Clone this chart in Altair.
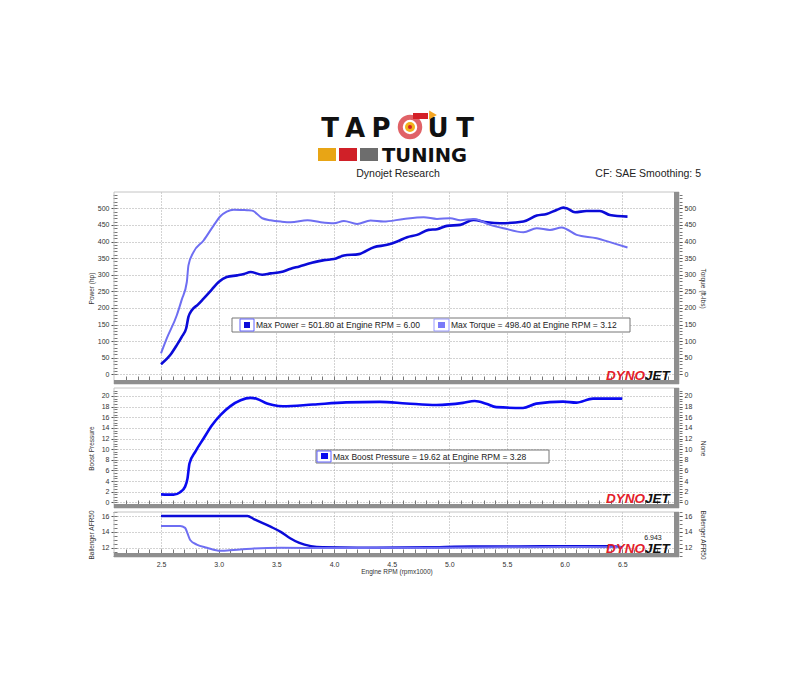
import altair as alt
import pandas as pd

# ---------------- data ----------------
power_rpm = [2.50, 2.58, 2.637, 2.68, 2.718, 2.738, 2.767, 2.82, 2.869, 2.94, 3.00, 3.07, 3.16, 3.22,
             3.276, 3.378, 3.45, 3.54, 3.625, 3.70, 3.80, 3.914, 4.00, 4.086, 4.216, 4.346, 4.461,
             4.548, 4.634, 4.72, 4.82, 4.893, 4.98, 5.095, 5.21, 5.326, 5.44, 5.643, 5.758, 5.844,
             5.93, 5.988, 6.017, 6.09, 6.19, 6.305, 6.392, 6.545]
power_hp = [30, 58, 88, 113, 138, 173, 193, 210, 228, 255, 278, 293, 298, 302,
            308, 300, 304, 308, 318, 325, 335, 344, 347, 358, 362, 383, 390,
            400, 413, 420, 435, 437, 447, 450, 465, 458, 455, 460, 478, 483,
            495, 502, 500, 488, 492, 492, 480, 475]

torque_rpm = [2.50, 2.55, 2.637, 2.68, 2.724, 2.738, 2.782, 2.869, 2.956, 3.015, 3.07, 3.13, 3.247,
              3.29, 3.378, 3.45, 3.54, 3.625, 3.77, 3.885, 4.00, 4.086, 4.20, 4.317, 4.43, 4.605,
              4.778, 4.893, 5.009, 5.095, 5.21, 5.355, 5.47, 5.643, 5.758, 5.873, 5.974, 6.017,
              6.104, 6.277, 6.42, 6.545]
torque_lbft = [63, 108, 178, 225, 278, 328, 368, 403, 448, 476, 490, 496, 494,
               493, 470, 464, 460, 458, 464, 458, 455, 462, 453, 463, 460, 468,
               473, 468, 470, 464, 468, 450, 440, 428, 440, 435, 442, 437,
               420, 410, 395, 382]

boost_rpm = [2.50, 2.608, 2.666, 2.709, 2.73, 2.747, 2.797, 2.869, 2.942, 3.015, 3.102, 3.19, 3.276,
             3.334, 3.42, 3.47, 3.558, 3.818, 4.107, 4.396, 4.627, 4.887, 5.118, 5.22, 5.32,
             5.408, 5.639, 5.754, 5.986, 6.101, 6.246, 6.50]
boost_psi = [1.5, 1.44, 1.9, 2.95, 4.5, 7.3, 9.5, 12.0, 14.5, 16.4, 18.1, 19.2, 19.65,
             19.45, 18.6, 18.3, 18.06, 18.4, 18.8, 18.9, 18.6, 18.3, 18.7, 19.06, 18.56,
             17.9, 17.75, 18.56, 18.94, 18.75, 19.5, 19.5]

afr1_rpm = [2.50, 2.80, 3.10, 3.25, 3.305, 3.45, 3.538, 3.62, 3.70, 3.80, 3.90, 4.20, 4.80, 5.20,
            5.60, 6.00, 6.40, 6.50]
afr1_val = [16.0, 16.0, 16.0, 16.0, 15.6, 14.65, 14.0, 13.2, 12.6, 12.2, 12.05, 12.0, 12.05, 12.15,
            12.15, 12.2, 12.2, 12.05]

afr2_rpm = [2.50, 2.666, 2.709, 2.73, 2.753, 2.81, 2.898, 3.015, 3.13, 3.305, 3.538, 4.00, 4.50,
            5.00, 5.50, 6.00, 6.50]
afr2_val = [14.74, 14.74, 14.5, 13.8, 12.97, 12.4, 12.0, 11.6, 11.7, 11.9, 12.0, 11.95, 12.0,
            12.0, 12.05, 12.1, 12.05]

x_ticks = [2.5, 3.0, 3.5, 4.0, 4.5, 5.0, 5.5, 6.0, 6.5]
x_minor = [round(2.2 + 0.1 * i, 1) for i in range(48)]
hp_ticks = [0, 50, 100, 150, 200, 250, 300, 350, 400, 450, 500]
hp_minor = list(range(0, 541, 10))
boost_ticks = [0, 2, 4, 6, 8, 10, 12, 14, 16, 18, 20]
boost_minor = [i * 0.5 for i in range(0, 43)]
afr_ticks = [12, 14, 16]
afr_minor = [11.0 + 0.5 * i for i in range(12)]

legend_power = "Max Power = 501.80 at Engine RPM = 6.00"
legend_torque = "Max Torque = 498.40 at Engine RPM = 3.12"
legend_boost = "Max Boost Pressure = 19.62 at Engine RPM = 3.28"

# ---------------- styling ----------------
W = 565
XDOM = [2.0925, 6.9916]
FONT = "Liberation Sans"
GRID = dict(gridColor="#a6a6a6", gridDash=[1, 2], gridWidth=1)
DARK = "#0b0bd8"
LIGHT = "#6e6ef2"
one = pd.DataFrame({"k": [0]})


def xscale():
    return alt.Scale(domain=XDOM, nice=False, zero=False)


def rect(x, x2, y, y2, **kw):
    return alt.Chart(one).mark_rect(**kw).encode(
        x=alt.value(x), x2=alt.value(x2), y=alt.value(y), y2=alt.value(y2))


def text(s, x, y, **kw):
    base = dict(font=FONT, fontSize=8.5, color="#222", align="left", baseline="middle")
    base.update(kw)
    return alt.Chart(one).mark_text(text=s, **base).encode(x=alt.value(x), y=alt.value(y))


def frame(H):
    return [
        rect(0, W, 0, H, fillOpacity=0, stroke="#c4c4c4", strokeWidth=1),
        rect(W - 5, W, 0, H, color="#8e8e8e"),
        rect(0, W, H - 4, H, color="#8e8e8e"),
    ]


def dynojet(ybase):
    return [
        text("DYNO", 531, ybase, color="#e3202a", fontSize=13.5, fontWeight=900, fontStyle="italic",
             align="right", baseline="alphabetic"),
        text("JET", 531, ybase, color="#111111", fontSize=13.5, fontWeight=900, fontStyle="italic",
             align="left", baseline="alphabetic"),
    ]


def panel(series, ydom, yticks, yminor, H, ltitle, rtitle, extras, bottom=False):
    yscale = alt.Scale(domain=ydom, nice=False, zero=False)
    lab = dict(labelFont=FONT, labelFontSize=7, labelColor="#333")
    ttl = dict(titleFont=FONT, titleFontSize=6.5, titleFontWeight="normal", titleColor="#333")
    if bottom:
        xaxis = alt.Axis(orient="bottom", values=x_ticks, grid=True, **GRID, domain=False, ticks=False,
                         labelPadding=3, format=".1f", title="Engine RPM (rpmx1000)",
                         titlePadding=1, **lab, **ttl)
    else:
        xaxis = alt.Axis(orient="bottom", values=x_ticks, grid=True, **GRID, domain=False, ticks=False,
                         labels=False, title=None)
    ax_left = alt.Axis(orient="left", values=yticks, grid=True, **GRID, domain=False,
                       tickSize=3, tickColor="#555", labelPadding=2, title=ltitle,
                       titleX=-20, titleY=H / 2, **lab, **ttl)
    ax_right = alt.Axis(orient="right", values=yticks, grid=False, domain=False,
                        tickSize=3, tickColor="#555", labelPadding=2, title=rtitle,
                        titleX=20, titleY=H / 2, **lab, **ttl)
    ax_lmin = alt.Axis(orient="left", values=yminor, grid=False, domain=False, labels=False,
                       tickSize=4, tickColor="#777", offset=-3, title=None)
    ax_rmin = alt.Axis(orient="right", values=yminor, grid=False, domain=False, labels=False,
                       tickSize=3, tickColor="#777", offset=0, title=None)
    ax_xmin = alt.Axis(orient="bottom", values=x_minor, grid=False, domain=False, labels=False,
                       tickSize=4, tickColor="#777", offset=-8, title=None)

    layers = frame(H)[:1]
    d0, c0, sw0 = series[0]
    layers.append(alt.Chart(d0).mark_line(opacity=0).encode(
        x=alt.X("rpm:Q", scale=xscale(), axis=ax_xmin),
        y=alt.Y("v:Q", scale=yscale, axis=ax_lmin)))
    layers.append(alt.Chart(d0).mark_line(opacity=0).encode(
        x=alt.X("rpm:Q", scale=xscale(), axis=None),
        y=alt.Y("v:Q", scale=yscale, axis=ax_rmin)))
    layers.append(alt.Chart(d0).mark_line(color=c0, strokeWidth=sw0, interpolate="monotone").encode(
        x=alt.X("rpm:Q", scale=xscale(), axis=xaxis),
        y=alt.Y("v:Q", scale=yscale, axis=ax_left)))
    if len(series) > 1:
        d1, c1, sw1 = series[1]
        layers.append(alt.Chart(d1).mark_line(color=c1, strokeWidth=sw1, interpolate="monotone").encode(
            x=alt.X("rpm:Q", scale=xscale(), axis=None),
            y=alt.Y("v:Q", scale=yscale, axis=ax_right)))
    else:
        layers.append(alt.Chart(d0).mark_line(opacity=0).encode(
            x=alt.X("rpm:Q", scale=xscale(), axis=None),
            y=alt.Y("v:Q", scale=yscale, axis=ax_right)))
    layers += frame(H)[1:]
    layers += extras
    return alt.layer(*layers).resolve_axis(x="independent", y="independent").properties(
        width=W, height=H)


df_power = pd.DataFrame({"rpm": power_rpm, "v": power_hp})
df_torque = pd.DataFrame({"rpm": torque_rpm, "v": torque_lbft})
df_boost = pd.DataFrame({"rpm": boost_rpm, "v": boost_psi})
df_afr1 = pd.DataFrame({"rpm": afr1_rpm, "v": afr1_val})
df_afr2 = pd.DataFrame({"rpm": afr2_rpm, "v": afr2_val})

# ---------------- header (logo + captions) ----------------
HH = 180
hdr = []
for ch, cx in [("T", 216), ("A", 241), ("P", 267), ("U", 324), ("T", 351)]:
    hdr.append(text(ch, cx, 129, font="DejaVu Sans", fontWeight="bold", fontSize=26,
                    color="#111", align="center", baseline="alphabetic"))
# turbo "O"
hdr.append(rect(299, 314, 105, 111, color="#d42027"))
hdr.append(alt.Chart(one).mark_point(shape="triangle-right", filled=True, color="#f5a623", opacity=1, size=80).encode(
    x=alt.value(319), y=alt.value(107)))
hdr.append(alt.Chart(one).mark_point(shape="circle", filled=False, color="#d42027", strokeWidth=5, size=380).encode(
    x=alt.value(296), y=alt.value(119)))
hdr.append(alt.Chart(one).mark_point(shape="circle", filled=True, color="#f2b31a", opacity=1, size=100).encode(
    x=alt.value(296), y=alt.value(119)))
hdr.append(alt.Chart(one).mark_point(shape="circle", filled=True, color="#d42027", opacity=1, size=16).encode(
    x=alt.value(296), y=alt.value(119)))
hdr.append(rect(204, 222, 140, 153, color="#e8a515"))
hdr.append(rect(225, 243, 140, 153, color="#d02028"))
hdr.append(rect(246, 264, 140, 153, color="#6d6d6d"))
hdr.append(text("TUNING", 268, 154, font="DejaVu Sans", fontWeight="bold", fontSize=19.5,
                color="#111", baseline="alphabetic"))
hdr.append(text("Dynojet Research", 284, 166, fontSize=10.5, align="center", color="#222"))
hdr.append(text("CF: SAE Smoothing: 5", 587, 166, fontSize=10.5, align="right", color="#222"))
header = alt.layer(*hdr).properties(width=W, height=HH)

# ---------------- panels ----------------
H1, H2, H3 = 192, 120, 45

top_extras = [
    rect(118, 516, 126, 140, fill="white", stroke="#777", strokeWidth=1),
    rect(126, 140, 127, 139, fill="white", stroke="#6060ff", strokeWidth=1),
    rect(130, 136, 130, 136, color=DARK),
    text(legend_power, 142, 133),
    rect(320, 335, 127, 139, fill="white", stroke="#9a9aff", strokeWidth=1),
    rect(324, 331, 130, 136, color="#7a7af8"),
    text(legend_torque, 337, 133),
] + dynojet(188)

mid_extras = [
    rect(202, 435, 62, 75, fill="white", stroke="#777", strokeWidth=1),
    rect(203, 217, 63, 74, fill="white", stroke="#6060ff", strokeWidth=1),
    rect(207, 214, 65, 71, color="#0a0af0"),
    text(legend_boost, 219, 68.5),
] + dynojet(115)

bot_extras = dynojet(41) + [text("6.943", 539, 26, fontSize=7, align="center", color="#222")]

top = panel([(df_power, DARK, 2.6), (df_torque, LIGHT, 2.0)], [-29.2, 549.1], hp_ticks, hp_minor,
            H1, "Power (hp)", "Torque (ft-lbs)", top_extras)
mid = panel([(df_boost, "#0a0af0", 2.6)], [-1.072, 21.505], boost_ticks, boost_minor,
            H2, "Boost Pressure", "None", mid_extras)
bot = panel([(df_afr1, DARK, 2.4), (df_afr2, LIGHT, 2.0)], [10.826, 16.505], afr_ticks, afr_minor,
            H3, "Ballenger AFR50", "Ballenger AFR50", bot_extras, bottom=True)

chart = alt.vconcat(header, top, mid, bot, spacing=4, bounds="flush").properties(
    padding={"left": 79, "top": 0, "right": 10, "bottom": 5},
    background="white",
).configure_view(stroke=None)

chart.save("out.html", embed_options={"renderer": "svg", "actions": False})
